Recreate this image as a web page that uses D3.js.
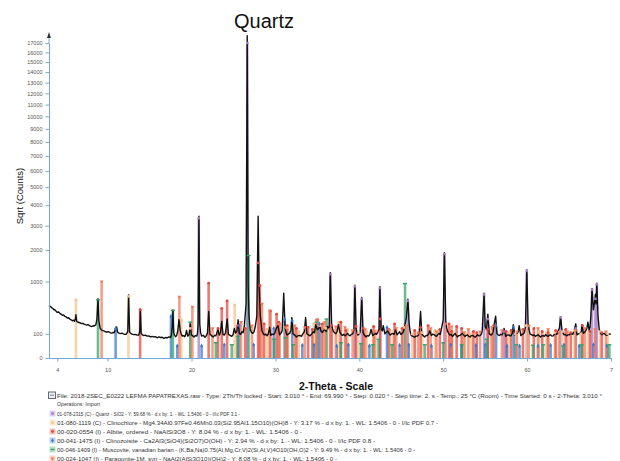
<!DOCTYPE html>
<html>
<head>
<meta charset="utf-8">
<script src="https://cdn.jsdelivr.net/npm/d3@7"></script>
<style>
  body { margin: 0; background: #fff; }
  svg { display: block; font-family: "Liberation Sans", Arial, sans-serif; }
</style>
</head>
<body>
<svg id="chart" width="620" height="461"></svg>
<script>
// measured pattern, [2-theta, counts]
const trace = [
  [3.01,470],[3.1,452],[3.2,458],[3.3,436],[3.4,428],[3.5,416],[3.6,396],[3.7,402],[3.8,384],[3.9,370],[4.0,356],[4.15,362],[4.3,342],[4.45,330],
  [4.6,312],[4.75,318],[4.9,296],[5.05,290],[5.2,272],[5.35,278],[5.5,258],[5.65,250],[5.8,238],[5.95,244],[6.05,232],[6.15,262],[6.22,320],
  [6.32,228],[6.45,222],[6.6,216],[6.75,210],[6.9,202],[7.05,206],[7.2,196],[7.35,190],[7.5,186],[7.65,192],[7.8,182],[7.95,174],[8.1,170],
  [8.25,178],[8.4,176],[8.5,182],[8.6,190],[8.72,260],[8.85,600],[8.95,240],[9.1,150],[9.2,140],[9.3,134],[9.45,128],[9.6,124],[9.75,118],
  [9.9,114],[10.05,120],[10.2,114],[10.35,108],[10.5,106],[10.65,112],[10.8,110],[10.95,150],[11.07,165],[11.2,112],[11.35,106],[11.5,102],
  [11.7,106],[11.9,100],[12.05,96],[12.2,96],[12.4,120],[12.5,680],[12.62,115],[12.75,104],[12.9,98],[13.1,94],[13.3,96],[13.5,90],[13.7,90],
  [13.82,120],[13.9,410],[14.0,104],[14.15,92],[14.3,86],[14.5,90],[14.7,82],[14.9,84],[15.1,76],[15.3,80],[15.5,76],[15.7,78],[15.9,70],
  [16.1,76],[16.3,72],[16.5,74],[16.7,66],[16.9,72],[17.1,70],[17.3,76],[17.5,72],[17.6,90],[17.68,150],[17.78,395],[17.88,110],[17.98,88],
  [18.1,78],[18.22,86],[18.35,120],[18.5,250],[18.65,130],[18.78,96],[18.9,82],[19.05,86],[19.2,78],[19.3,92],[19.4,130],[19.55,82],[19.7,90],
  [19.85,200],[19.98,92],[20.15,84],[20.3,76],[20.45,86],[20.6,82],[20.7,96],[20.78,200],[20.88,3450],[20.98,200],[21.08,110],[21.2,82],
  [21.4,88],[21.6,74],[21.75,84],[21.9,108],[22.05,370],[22.2,96],[22.4,84],[22.6,76],[22.75,88],[22.9,84],[23.15,140],[23.3,90],[23.45,110],
  [23.6,230],[23.75,96],[23.9,90],[24.05,108],[24.25,260],[24.4,96],[24.6,88],[24.8,80],[24.95,94],[25.1,150],[25.25,106],[25.4,120],
  [25.55,250],[25.7,104],[25.85,96],[26.0,118],[26.15,110],[26.3,180],[26.5,500],[26.64,17800],[26.75,900],[26.85,300],[27.0,136],[27.15,112],
  [27.3,104],[27.45,120],[27.6,170],[27.78,300],[27.94,3450],[28.05,900],[28.2,300],[28.4,126],[28.55,100],[28.7,92],[28.85,98],[29.0,84],
  [29.15,100],[29.3,160],[29.45,88],[29.6,98],[29.8,94],[29.95,110],[30.1,150],[30.3,180],[30.5,92],[30.65,104],[30.8,126],[30.99,720],
  [31.15,156],[31.3,104],[31.4,90],[31.55,100],[31.7,104],[31.85,130],[31.95,280],[32.1,100],[32.3,90],[32.5,76],[32.7,86],[32.9,88],
  [33.1,80],[33.3,104],[33.45,120],[33.6,280],[33.75,100],[33.95,92],[34.1,84],[34.3,96],[34.5,118],[34.65,110],[34.8,190],[35.0,136],
  [35.15,150],[35.3,170],[35.45,120],[35.6,112],[35.75,130],[35.9,140],[36.05,120],[36.2,170],[36.4,146],[36.54,1250],[36.7,196],[36.8,150],
  [36.9,122],[37.05,110],[37.2,100],[37.35,120],[37.5,190],[37.7,110],[37.85,96],[38.0,88],[38.15,96],[38.3,84],[38.45,92],[38.6,104],
  [38.75,90],[38.9,84],[39.05,96],[39.2,100],[39.35,130],[39.47,910],[39.62,146],[39.75,104],[39.85,90],[40.0,100],[40.1,116],[40.29,630],
  [40.45,112],[40.6,90],[40.8,76],[40.95,86],[41.1,82],[41.25,96],[41.4,140],[41.6,86],[41.75,96],[41.9,104],[42.05,96],[42.2,116],
  [42.35,140],[42.45,870],[42.6,146],[42.75,126],[42.85,180],[43.05,100],[43.2,112],[43.4,128],[43.55,100],[43.7,90],[43.85,100],[44.0,104],
  [44.15,96],[44.3,140],[44.5,92],[44.65,104],[44.8,118],[44.95,96],[45.1,102],[45.25,120],[45.4,170],[45.6,280],[45.79,590],[45.95,190],
  [46.05,120],[46.2,86],[46.4,80],[46.6,74],[46.75,82],[46.9,82],[47.05,90],[47.15,128],[47.3,370],[47.45,100],[47.6,86],[47.8,76],
  [47.95,88],[48.1,86],[48.25,96],[48.4,128],[48.6,86],[48.75,98],[48.9,94],[49.05,86],[49.2,80],[49.35,94],[49.5,104],[49.65,96],
  [49.8,150],[50.0,250],[50.14,1900],[50.3,240],[50.4,160],[50.5,126],[50.65,104],[50.8,90],[50.95,96],[51.1,80],[51.25,90],[51.4,104],
  [51.55,88],[51.7,76],[51.85,86],[52.0,86],[52.15,96],[52.3,104],[52.45,90],[52.6,80],[52.75,88],[52.9,92],[53.05,80],[53.2,76],
  [53.35,86],[53.5,88],[53.65,80],[53.8,74],[53.95,84],[54.1,92],[54.25,84],[54.4,86],[54.55,98],[54.65,128],[54.87,720],[55.0,170],
  [55.15,140],[55.32,330],[55.5,100],[55.65,90],[55.8,94],[55.95,120],[56.05,180],[56.25,300],[56.4,104],[56.55,92],[56.7,86],[56.85,96],
  [57.0,92],[57.15,110],[57.25,150],[57.45,80],[57.6,90],[57.8,92],[57.95,84],[58.1,84],[58.25,110],[58.35,190],[58.5,92],[58.65,100],
  [58.8,104],[58.95,120],[59.05,180],[59.25,86],[59.4,94],[59.6,104],[59.7,120],[59.8,170],[59.96,1330],[60.12,200],[60.25,130],[60.35,100],
  [60.5,94],[60.7,86],[60.85,92],[61.0,80],[61.15,88],[61.3,92],[61.45,84],[61.6,76],[61.75,84],[61.9,86],[62.05,80],[62.2,94],
  [62.35,86],[62.5,80],[62.65,90],[62.8,92],[62.95,82],[63.1,84],[63.25,96],[63.4,104],[63.55,96],[63.7,128],[63.85,150],[63.99,290],
  [64.15,136],[64.3,104],[64.4,92],[64.55,96],[64.7,84],[64.85,92],[65.0,92],[65.15,100],[65.3,104],[65.45,96],[65.6,128],[65.8,200],
  [65.95,92],[66.1,100],[66.3,104],[66.45,120],[66.55,190],[66.7,104],[66.85,112],[67.0,128],[67.12,150],[67.25,220],[67.4,128],[67.5,160],
  [67.6,300],[67.74,830],[67.9,400],[68.05,550],[68.14,700],[68.22,500],[68.31,960],[68.45,300],[68.6,136],[68.75,104],[68.9,94],[69.05,100],
  [69.2,104],[69.35,92],[69.5,88],[69.65,96],[69.8,100],[69.99,96]
];

// reference phases (stick positions in 2-theta, heights in counts)
const quartzPos = [20.86, 26.64, 36.54, 39.47, 40.29, 42.45, 45.79, 50.14, 54.87, 55.33, 57.24, 59.96, 63.99, 65.79, 67.74, 68.14, 68.31];
const quartzInt = [3350, 17000, 1200, 880, 600, 840, 560, 1850, 690, 260, 120, 1300, 280, 150, 800, 600, 930];

const chloritePos = [6.22, 12.48, 18.78, 19.85, 25.14, 29.0, 31.5, 32.8, 34.56, 35.3, 36.0, 37.55, 38.6, 39.9, 40.9, 42.0, 44.0, 45.3, 46.3,
  47.5, 49.0, 51.1, 52.6, 53.3, 55.7, 57.8, 58.6, 59.9, 61.4, 62.3, 63.3, 64.2, 65.6, 66.4, 67.3, 68.7, 69.6];
const chloriteInt = [580, 650, 250, 150, 480, 140, 160, 120, 200, 180, 150, 220, 140, 110, 120, 130, 120, 160, 100,
  110, 130, 120, 110, 100, 120, 110, 100, 180, 120, 110, 110, 120, 130, 100, 110, 120, 100];

const albitePos = [13.87, 22.04, 23.16, 23.6, 24.24, 25.5, 26.4, 27.94, 28.14, 28.65, 29.4, 30.14, 30.4, 31.4, 32.5, 33.9, 34.4, 35.0, 35.6,
  36.7, 37.8, 38.4, 39.6, 40.5, 41.7, 42.5, 43.5, 44.2, 45.1, 46.6, 47.3, 48.2, 49.6, 50.7, 51.0, 51.6, 52.2, 53.6, 54.0, 55.3, 56.0,
  57.5, 58.1, 59.5, 60.8, 61.8, 62.5, 63.4, 64.6, 65.2, 66.6, 67.5, 68.9];
const albiteInt = [400, 960, 150, 420, 560, 180, 150, 1550, 900, 200, 380, 330, 220, 180, 150, 160, 140, 250, 200,
  180, 220, 130, 170, 150, 170, 260, 140, 200, 150, 130, 160, 180, 140, 200, 120, 170, 150, 120, 110, 140, 180,
  120, 130, 140, 150, 120, 110, 130, 140, 110, 180, 120, 110];

const zoisitePos = [10.95, 17.55, 18.3, 21.2, 23.9, 25.7, 27.4, 29.8, 31.1, 32.0, 33.2, 34.6, 35.25, 37.3, 38.7, 41.2, 43.3, 44.8, 45.9, 48.6,
  50.9, 52.2, 53.9, 55.0, 56.3, 57.6, 58.4, 59.1, 61.3, 62.8, 64.4, 66.2, 67.9, 69.5];
const zoisiteInt = [150, 300, 25, 25, 30, 180, 30, 150, 260, 240, 28, 30, 200, 25, 30, 25, 160, 28, 30, 25,
  30, 25, 28, 30, 180, 25, 160, 25, 25, 28, 30, 25, 30, 26];

const muscovitePos = [8.85, 17.78, 19.85, 22.9, 24.8, 25.5, 26.8, 29.85, 31.2, 32.1, 34.9, 36.1, 37.8, 40.2, 41.6, 42.3, 43.9, 45.45, 47.8,
  50.0, 52.2, 55.2, 58.7, 60.7, 61.9, 64.3, 66.5, 69.8];
const muscoviteInt = [580, 390, 220, 40, 30, 80, 1800, 60, 70, 30, 220, 260, 40, 35, 30, 60, 30, 950, 30,
  40, 30, 60, 30, 28, 30, 25, 30, 30];

const paragonitePos = [9.28, 18.55, 20.1, 22.5, 25.9, 27.2, 28.4, 29.3, 30.5, 31.2, 32.3, 33.5, 34.9, 35.9, 36.5, 37.2, 38.3, 39.2, 40.7,
  41.8, 43.6, 44.4, 45.6, 47.0, 48.5, 49.2, 50.3, 51.0, 52.5, 53.0, 54.4, 55.8, 57.0, 58.8, 60.2, 61.3, 62.5, 63.8, 64.8, 65.8, 66.9, 68.1, 69.4];
const paragoniteInt = [1000, 640, 450, 150, 220, 180, 500, 380, 200, 160, 180, 160, 250, 220, 140, 170, 160, 130, 140,
  120, 130, 150, 180, 110, 150, 120, 200, 170, 110, 140, 120, 160, 130, 120, 180, 150, 140, 110, 120, 130, 150, 140, 120];

const phaseNames = ["Quartz", "Clinochlore", "Albite", "Clinozoisite", "Muscovite", "Paragonite"];
const phaseColors = ["#a27cc8", "#f3c48e", "#e4473c", "#3b78d0", "#33a36a", "#f07b5c"];
const phaseMarks = ["square", "square", "circle", "diamond", "dash", "triangle"];

const yTicks = [0, 100, 1000, 2000, 3000, 4000, 5000, 6000, 7000, 8000, 9000, 10000, 11000, 12000, 13000, 14000, 15000, 16000, 17000];
const xTicks = [4, 10, 20, 30, 40, 50, 60, 70];
const xTickLabels = ["4", "10", "20", "30", "40", "50", "60", "7"];

const legendLines = [
  "File: 2018-2SEC_E0222  LEFMA  PAPATREXAS.raw - Type: 2Th/Th locked - Start: 3.010 ° - End: 69.990 ° - Step: 0.020 ° - Step time: 2. s - Temp.: 25 °C (Room) - Time Started: 0 s - 2-Theta: 3.010 °",
  "Operations: Import",
  "01-078-2315 (C) - Quartz - SiO2 - Y: 59.68 % - d x by: 1. - WL: 1.5406 - 0 - I/Ic PDF 3.1 -",
  "01-080-1119 (C) - Clinochlore - Mg4.34Al0.97Fe0.46Mn0.03(Si2.95Al1.15O10)(OH)8 - Y: 3.17 % - d x by: 1. - WL: 1.5406 - 0 - I/Ic PDF 0.7 -",
  "00-020-0554 (I) - Albite, ordered - NaAlSi3O8 - Y: 8.04 % - d x by: 1. - WL: 1.5406 - 0 -",
  "00-041-1475 (I) - Clinozoisite - Ca2Al3(SiO4)(Si2O7)O(OH) - Y: 2.94 % - d x by: 1. - WL: 1.5406 - 0 - I/Ic PDF 0.8 -",
  "00-046-1409 (I) - Muscovite, vanadian barian - (K,Ba,Na)0.75(Al,Mg,Cr,V)2(Si,Al,V)4O10(OH,O)2 - Y: 9.49 % - d x by: 1. - WL: 1.5406 - 0 -",
  "00-024-1047 (I) - Paragonite-1M, syn - NaAl2(AlSi3O10)(OH)2 - Y: 8.08 % - d x by: 1. - WL: 1.5406 - 0 -"
];
const legendEnds = [602, 100, 240, 438, 302, 375, 415, 337];

const phases = [
  [quartzPos, quartzInt], [chloritePos, chloriteInt], [albitePos, albiteInt],
  [zoisitePos, zoisiteInt], [muscovitePos, muscoviteInt], [paragonitePos, paragoniteInt]
].map((p, i) => ({
  name: phaseNames[i], color: phaseColors[i], mark: phaseMarks[i],
  sticks: p[0].map((t, j) => ({ t: t, c: p[1][j] }))
}));

const svg = d3.select("#chart");
const axisColor = "#72a9d6";

const x = d3.scaleLinear().domain([3.01, 70]).range([49, 611]);
const y = d3.scaleSqrt().domain([0, 17000]).range([358, 43]);

// title
svg.append("text")
  .attr("x", 264).attr("y", 28)
  .attr("text-anchor", "middle")
  .attr("font-size", 20)
  .attr("fill", "#111")
  .text("Quartz");

function drawMark(g, type, cx, cy, color, s) {
  if (type === "dash") {
    g.append("line")
      .attr("x1", cx - s).attr("x2", cx + s)
      .attr("y1", cy).attr("y2", cy)
      .attr("stroke", color).attr("stroke-width", 1.4);
    return;
  }
  let sym = { square: d3.symbolSquare, circle: d3.symbolCircle, diamond: d3.symbolDiamond, triangle: d3.symbolTriangle }[type];
  g.append("path")
    .attr("d", d3.symbol().type(sym).size(s * s * 1.6)())
    .attr("transform", `translate(${cx},${cy})` + (type === "triangle" ? " rotate(180)" : ""))
    .attr("fill", color);
}

// phase sticks
const stickG = svg.append("g");
phases.forEach(ph => {
  stickG.append("g")
    .selectAll("line")
    .data(ph.sticks)
    .enter().append("line")
    .attr("x1", d => x(d.t)).attr("x2", d => x(d.t))
    .attr("y1", y(0)).attr("y2", d => y(d.c))
    .attr("stroke", ph.color)
    .attr("stroke-width", 2.6)
    .attr("opacity", 0.72);
});

// pattern
const line = d3.line().x(d => x(d[0])).y(d => y(d[1]));
svg.append("path")
  .datum(trace)
  .attr("d", line)
  .attr("fill", "none")
  .attr("stroke", "#111")
  .attr("stroke-width", 1.4)
  .attr("stroke-linejoin", "round");

// stick-top markers
const markG = svg.append("g");
phases.forEach(ph => {
  ph.sticks.forEach(d => drawMark(markG, ph.mark, x(d.t), y(d.c), ph.color, 2));
});

// axes
const xAxis = svg.append("g").attr("transform", `translate(0,${y(0)})`);
xAxis.call(d3.axisBottom(x).tickValues(d3.range(4, 70, 1)).tickSize(2).tickFormat("").tickSizeOuter(0));
xAxis.call(d3.axisBottom(x).tickValues(xTicks).tickSize(3.5).tickFormat((d, i) => xTickLabels[i]).tickSizeOuter(0));

const yMinor = d3.range(200, 1000, 100).concat(d3.range(1500, 17000, 1000));
const yAxis = svg.append("g").attr("transform", `translate(${x(3.01)},0)`);
yAxis.call(d3.axisLeft(y).tickValues(yMinor).tickSize(2).tickFormat("").tickSizeOuter(0));
yAxis.call(d3.axisLeft(y).tickValues(yTicks).tickSize(3.5).tickFormat(d3.format("d")).tickSizeOuter(0));

svg.selectAll(".domain, .tick line").attr("stroke", axisColor);
svg.selectAll(".tick text").attr("font-size", 5.5).attr("fill", "#555").attr("font-family", "Liberation Sans, Arial");
xAxis.selectAll(".tick text").attr("dy", "1.3em");

// arrow on y axis
svg.append("line")
  .attr("x1", x(3.01)).attr("x2", x(3.01))
  .attr("y1", y(17000)).attr("y2", 36)
  .attr("stroke", axisColor);
svg.append("path")
  .attr("d", `M${x(3.01) - 2},38 L${x(3.01)},32 L${x(3.01) + 2},38 Z`)
  .attr("fill", "#333");

// axis titles
svg.append("text")
  .attr("x", 336).attr("y", 390)
  .attr("text-anchor", "middle")
  .attr("font-size", 10.5)
  .attr("font-weight", "bold")
  .attr("fill", "#111")
  .text("2-Theta - Scale");

svg.append("text")
  .attr("transform", "translate(23,196) rotate(-90)")
  .attr("text-anchor", "middle")
  .attr("font-size", 9.5)
  .attr("fill", "#111")
  .text("Sqrt (Counts)");

// legend
const legend = svg.append("g");
const rowY = [397.5, 406.3, 415.5, 424.5, 433.5, 442.5, 451.5, 460.5];
legendLines.forEach((t, i) => {
  legend.append("text")
    .attr("x", 57).attr("y", rowY[i])
    .attr("font-size", 5.6)
    .attr("fill", "#333")
    .attr("textLength", legendEnds[i] - 57)
    .attr("lengthAdjust", "spacingAndGlyphs")
    .text(t);
});
// file icon
legend.append("rect").attr("x", 48.5).attr("y", 392).attr("width", 7).attr("height", 6.5)
  .attr("fill", "#e6eef6").attr("stroke", "#667");
legend.append("line").attr("x1", 50).attr("x2", 54).attr("y1", 395.2).attr("y2", 395.2).attr("stroke", "#667").attr("stroke-width", 0.8);
phases.forEach((ph, i) => {
  let cy = rowY[i + 2] - 2;
  legend.append("rect")
    .attr("x", 49.5).attr("y", cy - 3).attr("width", 6).attr("height", 6)
    .attr("fill", ph.color).attr("opacity", 0.35);
  drawMark(legend, ph.mark, 52.5, cy, ph.color, 2);
});
</script>
</body>
</html>
